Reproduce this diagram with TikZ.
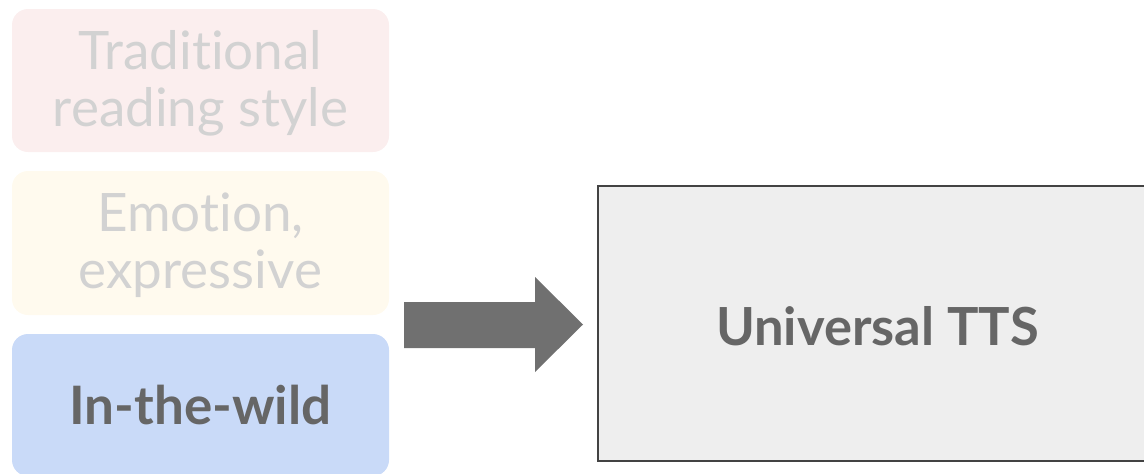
\documentclass[tikz,border=0pt]{standalone}
\usepackage{fontspec}
\setmainfont{Lato}[Ligatures=CommonOff]
\definecolor{pinkfill}{HTML}{FBEEEE}
\definecolor{yellowfill}{HTML}{FFFAEE}
\definecolor{bluefill}{HTML}{C9DAF8}
\definecolor{fadedtext}{HTML}{D2D2D2}
\definecolor{darktext}{HTML}{666666}
\definecolor{boxfill}{HTML}{EEEEEE}
\definecolor{boxline}{HTML}{434343}
\definecolor{arrowgray}{HTML}{707070}
% lower a text block without changing the size the node sees
\newcommand{\lowered}[2]{\raisebox{-#1}[\height][\depth]{#2}}
\newcommand{\twolines}[2]{\lowered{6pt}{\begin{tabular}{@{}c@{}}#1\\#2\end{tabular}}}
\tikzset{
  catbox/.style={rounded corners=16pt, minimum width=377pt, inner sep=0pt,
    align=center, font=\fontsize{53}{57}\selectfont},
  faded/.style={catbox, text=fadedtext},
  active/.style={catbox, text=darktext, font=\fontsize{53}{57}\selectfont\bfseries},
  ttsbox/.style={draw=boxline, line width=1.2pt, fill=boxfill, inner sep=0pt,
    text=darktext, font=\fontsize{52.5}{57}\selectfont\bfseries}
}
\begin{document}
\begin{tikzpicture}[x=1pt,y=-1pt]
  \useasboundingbox (0,0) rectangle (1144,474);
  % input categories
  \node[faded, fill=pinkfill, minimum height=143pt] (trad) at (200.5,80.5)
    {\twolines{Traditional}{reading style}};
  \node[faded, fill=yellowfill, minimum height=144pt] (emo) at (200.5,243)
    {\twolines{Emotion,}{expressive}};
  \node[active, fill=bluefill, minimum height=142pt] (wild) at (200.5,405)
    {In-the-wild};
  % target model
  \node[ttsbox, minimum width=559pt, minimum height=275pt] (tts) at (877.5,323.5)
    {\lowered{3pt}{Universal TTS}};
  % block arrow
  \coordinate (a1) at (404,302);
  \coordinate (a2) at (535,302);
  \coordinate (a3) at (535,277);
  \coordinate (tip) at (583,324.5);
  \coordinate (a5) at (535,372);
  \coordinate (a6) at (535,348);
  \coordinate (a7) at (404,348);
  \fill[arrowgray] (a1) -- (a2) -- (a3) -- (tip) -- (a5) -- (a6) -- (a7) -- cycle;
\end{tikzpicture}
\end{document}
